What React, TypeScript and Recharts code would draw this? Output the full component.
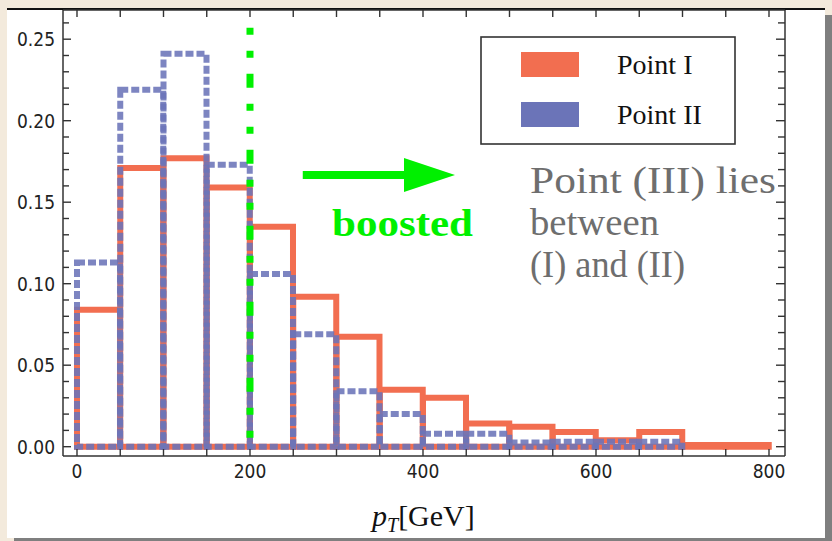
import React from 'react';
import { ComposedChart, Bar, XAxis, YAxis, ReferenceLine, Legend } from 'recharts';

// ---------- data ----------
const binCenters = [25, 75, 125, 175, 225, 275, 325, 375, 425, 475, 525, 575, 625, 675, 725, 775];
const pointI = [0.084, 0.171, 0.177, 0.159, 0.135, 0.092, 0.0675, 0.035, 0.030, 0.0143, 0.0123, 0.009, 0.004, 0.009, 0.001, 0.001];
const pointII = [0.113, 0.219, 0.241, 0.173, 0.106, 0.069, 0.034, 0.020, 0.008, 0.008, 0.0025, 0.003, 0.003, 0.003, 0, 0];
const seriesNames = ['Point I', 'Point II'];
const xTicks = [0, 50, 100, 150, 200, 250, 300, 350, 400, 450, 500, 550, 600, 650, 700, 750, 800];
const xLabelTicks = [0, 200, 400, 600, 800];
const yTicks = [0, 0.01, 0.02, 0.03, 0.04, 0.05, 0.06, 0.07, 0.08, 0.09, 0.1, 0.11, 0.12, 0.13, 0.14, 0.15, 0.16, 0.17, 0.18, 0.19, 0.2, 0.21, 0.22, 0.23, 0.24, 0.25, 0.26];
const yLabelTicks = [0, 0.05, 0.1, 0.15, 0.2, 0.25];
const boostCut = 200;
const boostTop = 0.257;
const arrowFrom = { x: 261, y: 0.1667 };
const arrowTo = { x: 437, y: 0.1667 };

const data = binCenters.map((c, i) => ({ pT: c, pointI: pointI[i], pointII: pointII[i] }));

// ---------- styles ----------
const ORANGE = '#f26e50';
const BLUE = '#6b74b8';
const GREEN = '#00f000';
const FRAME = '#333333';
const TICK_FONT = "'Liberation Sans Narrow', 'DejaVu Sans Condensed', 'Open Sans', sans-serif";
const SERIF = "'Liberation Serif', 'DejaVu Serif', serif";
const X_DOMAIN: [number, number] = [-16.18, 818.5];
const Y_DOMAIN: [number, number] = [-0.00571, 0.26791];

const isYMajor = (v: number) => yLabelTicks.some((t) => Math.abs(t - v) < 1e-9);
const isXMajor = (v: number) => xLabelTicks.some((t) => Math.abs(t - v) < 1e-9);

const LeftTick = (props: any) => {
  const { x, y, payload } = props;
  const v = payload.value;
  const major = isYMajor(v);
  return (
    <g>
      <line x1={x} y1={y} x2={x + (major ? 8 : 6)} y2={y} stroke={FRAME} strokeWidth={1.4} />
      {major && (
        <text x={x - 8} y={y} dy="0.36em" textAnchor="end" fontFamily={TICK_FONT} fontSize={19} fill="#222">
          {v.toFixed(2)}
        </text>
      )}
    </g>
  );
};

const RightTick = (props: any) => {
  const { x, y, payload } = props;
  const major = isYMajor(payload.value);
  return <line x1={x} y1={y} x2={x - (major ? 9 : 7)} y2={y} stroke={FRAME} strokeWidth={1.4} />;
};

const BottomTick = (props: any) => {
  const { x, y, payload } = props;
  const v = payload.value;
  const major = isXMajor(v);
  return (
    <g>
      <line x1={x} y1={y} x2={x} y2={y - 7} stroke={FRAME} strokeWidth={1.4} />
      {major && (
        <text x={x} y={y + 22} textAnchor="middle" fontFamily={TICK_FONT} fontSize={19} fill="#222">
          {v}
        </text>
      )}
    </g>
  );
};

const TopTick = (props: any) => {
  const { x, y } = props;
  return <line x1={x} y1={y} x2={x} y2={y + 7} stroke={FRAME} strokeWidth={1.4} />;
};

const ArrowShape = (props: any) => {
  const { x1, y1, x2 } = props;
  if (x1 == null || y1 == null || x2 == null) return null;
  const headLen = 51;
  const headHalf = 17;
  return (
    <g>
      <line x1={x1} y1={y1} x2={x2 - headLen + 2} y2={y1} stroke={GREEN} strokeWidth={8} />
      <polygon points={`${x2 - headLen},${y1 - headHalf} ${x2},${y1} ${x2 - headLen},${y1 + headHalf}`} fill={GREEN} />
    </g>
  );
};

const LegendBox = () => (
  <svg width={256} height={109} style={{ display: 'block' }}>
    <rect x={1} y={1} width={254} height={107} fill="white" stroke="#333" strokeWidth={1.6} />
    <rect x={41} y={16} width={58} height={25} fill={ORANGE} />
    <rect x={41} y={66} width={58} height={25} fill={BLUE} />
    <text x={137} y={38} fontFamily={SERIF} fontSize={28} fill="#111">{seriesNames[0]}</text>
    <text x={137} y={88} fontFamily={SERIF} fontSize={28} fill="#111">{seriesNames[1]}</text>
  </svg>
);

export default function App() {
  return (
    <div style={{ position: 'fixed', left: 0, top: 0, width: 832, height: 541, background: '#f3eadc', overflow: 'hidden' }}>
      <div
        style={{
          position: 'absolute',
          left: 7,
          top: 8,
          width: 818,
          height: 530,
          boxSizing: 'border-box',
          background: 'white',
          borderTop: '2px solid #111',
          boxShadow: '7px 7px 0 #7f7f7f',
        }}
      />
      <div style={{ position: 'absolute', left: 0, top: 0 }}>
        <ComposedChart
          width={832}
          height={541}
          data={data}
          margin={{ top: 9, right: 46, bottom: 84, left: 62 }}
          barCategoryGap={0}
          barGap={0}
        >
          <XAxis
            xAxisId="b"
            dataKey="pT"
            type="number"
            domain={X_DOMAIN}
            allowDataOverflow
            ticks={xTicks}
            interval={0}
            height={1}
            tickSize={0}
            tickMargin={0}
            tickLine={false}
            tick={(p: any) => <BottomTick {...p} />}
            axisLine={{ stroke: FRAME, strokeWidth: 1.5 }}
          />
          <XAxis
            xAxisId="t"
            orientation="top"
            dataKey="pT"
            type="number"
            domain={X_DOMAIN}
            allowDataOverflow
            ticks={xTicks}
            interval={0}
            height={1}
            tickSize={0}
            tickMargin={0}
            tickLine={false}
            tick={(p: any) => <TopTick {...p} />}
            axisLine={{ stroke: FRAME, strokeWidth: 1.5 }}
          />
          <YAxis
            yAxisId="l"
            type="number"
            domain={Y_DOMAIN}
            allowDataOverflow
            ticks={yTicks}
            interval={0}
            width={1}
            tickSize={0}
            tickMargin={0}
            tickLine={false}
            tick={(p: any) => <LeftTick {...p} />}
            axisLine={{ stroke: FRAME, strokeWidth: 1.5 }}
          />
          <YAxis
            yAxisId="r"
            orientation="right"
            type="number"
            domain={Y_DOMAIN}
            allowDataOverflow
            ticks={yTicks}
            interval={0}
            width={1}
            tickSize={0}
            tickMargin={0}
            tickLine={false}
            tick={(p: any) => <RightTick {...p} />}
            axisLine={{ stroke: FRAME, strokeWidth: 1.5 }}
          />
          <Bar
            xAxisId="b"
            yAxisId="l"
            dataKey="pointI"
            name={seriesNames[0]}
            fill="none"
            stroke={ORANGE}
            strokeWidth={6}
            isAnimationActive={false}
          />
          <Bar
            xAxisId="t"
            yAxisId="r"
            dataKey="pointII"
            name={seriesNames[1]}
            fill="none"
            stroke={BLUE}
            strokeOpacity={0.88}
            strokeWidth={6}
            strokeDasharray="8 3"
            isAnimationActive={false}
          />
          <ReferenceLine
            xAxisId="b"
            yAxisId="l"
            segment={[{ x: boostCut, y: boostTop }, { x: boostCut, y: 0 }]}
            stroke={GREEN}
            strokeWidth={7}
            strokeDasharray="7 16 7 16 14 16"
          />
          <ReferenceLine
            xAxisId="b"
            yAxisId="l"
            segment={[arrowFrom, arrowTo]}
            stroke={GREEN}
            shape={(p: any) => <ArrowShape {...p} />}
          />
          <Legend
            layout="horizontal"
            verticalAlign="middle"
            align="center"
            content={() => <LegendBox />}
            wrapperStyle={{ position: 'absolute', left: 480, top: 36, width: 256, height: 109 }}
          />
        </ComposedChart>
      </div>
      <svg width={832} height={541} style={{ position: 'absolute', left: 0, top: 0, pointerEvents: 'none' }}>
        <text x={332} y={236} fontFamily={SERIF} fontWeight="bold" fontSize={38} fill={GREEN} textLength={141} lengthAdjust="spacingAndGlyphs">
          boosted
        </text>
        <g fontFamily={SERIF} fontSize={37} fill="#6e6e6e" lengthAdjust="spacingAndGlyphs">
          <text x={530} y={193} textLength={246} lengthAdjust="spacingAndGlyphs">Point (III) lies</text>
          <text x={530} y={235} textLength={129} lengthAdjust="spacingAndGlyphs">between</text>
          <text x={530} y={277} textLength={155} lengthAdjust="spacingAndGlyphs">(I) and (II)</text>
        </g>
        <text x={372} y={526} fontFamily={SERIF} fontSize={30} fill="#111">
          <tspan fontStyle="italic">p</tspan>
          <tspan fontStyle="italic" fontSize={20} dy={6}>T</tspan>
          <tspan dy={-6}>[GeV]</tspan>
        </text>
      </svg>
    </div>
  );
}
